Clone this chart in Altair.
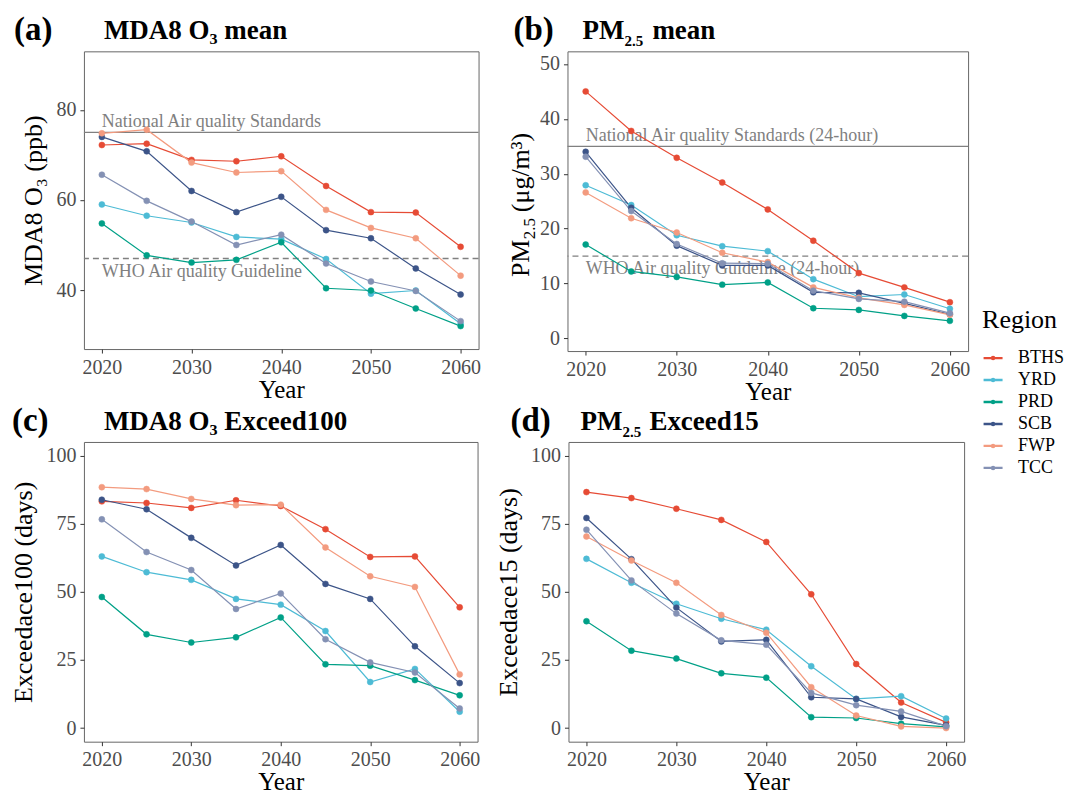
import altair as alt
import pandas as pd

years = [2020, 2025, 2030, 2035, 2040, 2045, 2050, 2055, 2060]
regions = ["BTHS", "YRD", "PRD", "SCB", "FWP", "TCC"]
colors = ["#E64B35", "#4DBBD5", "#00A087", "#3C5488", "#F39B7F", "#8491B4"]

# (a) MDA8 O3 mean (ppb)
o3_mean = {
    "BTHS": [72.2, 72.5, 68.9, 68.6, 69.7, 63.1, 57.3, 57.2, 49.6],
    "YRD":  [59.0, 56.5, 55.0, 51.8, 51.3, 46.9, 39.2, 39.9, 32.5],
    "PRD":  [54.8, 47.7, 46.1, 46.7, 50.6, 40.4, 39.9, 35.9, 32.0],
    "SCB":  [74.0, 70.8, 62.0, 57.3, 60.7, 53.3, 51.5, 44.8, 39.0],
    "FWP":  [74.8, 75.6, 68.3, 66.1, 66.4, 57.8, 53.8, 51.5, 43.2],
    "TCC":  [65.6, 59.8, 55.2, 50.0, 52.3, 45.9, 41.9, 39.8, 33.1],
}
# (b) PM2.5 mean (ug/m3)
pm_mean = {
    "BTHS": [45.0, 37.8, 32.9, 28.4, 23.5, 17.8, 11.9, 9.3, 6.6],
    "YRD":  [27.9, 24.3, 18.8, 16.8, 15.9, 10.8, 7.6, 8.0, 5.4],
    "PRD":  [17.1, 12.2, 11.2, 9.8, 10.2, 5.5, 5.2, 4.1, 3.2],
    "SCB":  [34.0, 23.8, 16.9, 13.3, 13.3, 8.4, 8.3, 6.4, 4.4],
    "FWP":  [26.6, 21.9, 19.3, 15.6, 13.9, 9.3, 7.4, 6.1, 4.3],
    "TCC":  [33.1, 23.2, 17.2, 13.7, 13.6, 8.7, 7.2, 6.7, 4.6],
}
# (c) MDA8 O3 exceedance days (>100)
o3_exceed = {
    "BTHS": [83.2, 82.6, 80.8, 83.6, 81.5, 73.0, 62.8, 63.0, 44.3],
    "YRD":  [63.0, 57.2, 54.4, 47.4, 45.3, 35.6, 16.9, 21.7, 6.0],
    "PRD":  [48.1, 34.4, 31.4, 33.3, 40.6, 23.4, 22.9, 17.6, 12.0],
    "SCB":  [83.8, 80.3, 69.8, 59.7, 67.2, 52.9, 47.4, 30.0, 16.5],
    "FWP":  [88.4, 87.7, 84.1, 81.8, 82.0, 66.3, 55.7, 51.8, 19.7],
    "TCC":  [76.6, 64.6, 58.0, 43.7, 49.4, 32.6, 24.1, 20.4, 7.2],
}
# (d) PM2.5 exceedance days (>15)
pm_exceed = {
    "BTHS": [86.6, 84.4, 80.5, 76.4, 68.3, 49.1, 23.5, 9.4, 2.1],
    "YRD":  [62.1, 53.3, 45.6, 40.1, 36.1, 22.7, 10.7, 11.7, 3.5],
    "PRD":  [39.2, 28.4, 25.5, 20.1, 18.5, 4.0, 3.7, 1.6, 0.4],
    "SCB":  [77.1, 62.0, 44.2, 31.8, 32.4, 11.3, 10.7, 4.1, 1.0],
    "FWP":  [70.3, 61.5, 53.3, 41.5, 35.0, 15.0, 4.6, 0.6, 0.0],
    "TCC":  [72.8, 54.2, 42.0, 32.2, 30.6, 12.9, 8.4, 6.1, 0.7],
}

FONT = "Liberation Serif"
GREY = "#808080"

legend_symbol = "M-1,0H1M-0.12,0A0.12,0.12,0,1,1,0.12,0A0.12,0.12,0,1,1,-0.12,0Z"


def txt(s, dx, dy, size, bold=True, angle=0):
    return alt.Chart(pd.DataFrame({"t": [s]})).mark_text(
        align="left", baseline="alphabetic", fontSize=size, angle=angle,
        fontWeight="bold" if bold else "normal", font=FONT, color="black"
    ).encode(x=alt.value(dx), y=alt.value(dy), text="t:N")


def panel(values, ydomain, yticks, ytitle, tag, title_parts, tag_dx,
          width, height, refs=None, ytitle_parts=None):
    rows = [{"Year": yr, "Region": r, "Value": v}
            for r in regions for yr, v in zip(years, values[r])]
    df = pd.DataFrame(rows)
    x = alt.X("Year:Q",
              scale=alt.Scale(domain=[2018, 2062], nice=False, zero=False),
              axis=alt.Axis(values=[2020, 2030, 2040, 2050, 2060], format="d",
                            title="Year"))
    y = alt.Y("Value:Q",
              scale=alt.Scale(domain=ydomain, nice=False, zero=False),
              axis=alt.Axis(values=yticks, title=ytitle))
    color = alt.Color("Region:N", scale=alt.Scale(domain=regions, range=colors),
                      legend=alt.Legend(title="Region", symbolType=legend_symbol,
                                        symbolSize=361, symbolStrokeWidth=2.3,
                                        orient="none", legendX=899, legendY=256))
    fill = alt.Fill("Region:N", scale=alt.Scale(domain=regions, range=colors),
                    legend=None)
    base = alt.Chart(df)
    lines = base.mark_line(strokeWidth=1.2).encode(x=x, y=y, color=color)
    pts = base.mark_point(filled=False, size=36, strokeWidth=0.5, opacity=1).encode(
        x=x, y=y, color=color, fill=fill)
    layers = []
    if refs:
        for val, label, dash, dy in refs:
            rule_df = pd.DataFrame({"Value": [val]})
            r = alt.Chart(rule_df).mark_rule(color=GREY, strokeWidth=1.3,
                                             strokeDash=dash).encode(y=y)
            t_df = pd.DataFrame({"Year": [2020], "Value": [val], "t": [label]})
            t = alt.Chart(t_df).mark_text(align="left", baseline="alphabetic",
                                          dy=dy, fontSize=18, color=GREY,
                                          font=FONT).encode(x=x, y=y, text="t:N")
            layers += [r, t]
    layers += [lines, pts]
    layers.append(txt(tag, tag_dx, -11, 33))
    for s, dx, dy, size in title_parts:
        layers.append(txt(s, dx, dy, size))
    if ytitle_parts:
        for s, dx, dy, size in ytitle_parts:
            layers.append(txt(s, dx, dy, size, bold=False, angle=270))
    return alt.layer(*layers).properties(width=width, height=height)


pa = panel(o3_mean, [26.9, 93], [40, 60, 80], "MDA8 O₃ (ppb)", "(a)",
           [("MDA8 O₃ mean", 20, -12, 27)], -70, 395, 298,
           refs=[(75, "National Air quality Standards", [1, 0], -5),
                 (47, "WHO Air quality Guideline", [6, 4], 18)])
pb = panel(pm_mean, [-2.3, 52.3], [0, 10, 20, 30, 40, 50], None, "(b)",
           [("PM", 15, -12, 27), ("2.5", 57, -5, 15), ("mean", 85, -12, 27)],
           -54, 401, 300,
           refs=[(35, "National Air quality Standards (24-hour)", [1, 0], -5),
                 (15, "WHO Air quality Guideline (24-hour)", [6, 4], 18)],
           ytitle_parts=[("PM", -39, 226, 26), ("2.5", -33, 188, 17),
                         ("(μg/m³)", -39, 161, 26)])
pc = panel(o3_exceed, [-5, 105], [0, 25, 50, 75, 100], "Exceedace100 (days)", "(c)",
           [("MDA8 O₃ Exceed100", 20, -12, 27)], -72, 394, 300)
pd_ = panel(pm_exceed, [-5, 105], [0, 25, 50, 75, 100], "Exceedace15 (days)", "(d)",
            [("PM", 12, -12, 27), ("2.5", 54, -5, 15), ("Exceed15", 81, -12, 27)],
            -58, 396, 300)

chart = alt.vconcat(
    alt.hconcat(pa, pb, spacing=25),
    alt.hconcat(pc, pd_, spacing=14),
    spacing=-1,
).properties(
    padding={"left": 2, "top": 5, "right": 0, "bottom": 0}
).configure_view(
    stroke="#666666", strokeWidth=1
).configure_axis(
    labelFont=FONT, labelFontSize=20, labelColor="#4D4D4D",
    titleFont=FONT, titleFontSize=26, titleColor="black", titleFontWeight="normal",
    tickColor="#333333", tickSize=4, domain=False, grid=False,
    labelPadding=4,
).configure_axisX(
    titlePadding=0, titleFontSize=25
).configure_axisY(
    titlePadding=9
).configure_legend(
    titleFont=FONT, titleFontSize=26, titleFontWeight="normal", titleColor="black",
    labelFont=FONT, labelFontSize=18, labelColor="black",
    rowPadding=2, titlePadding=14, labelOffset=14,
)

chart.save("out.html", embed_options={"renderer": "svg", "actions": False})
